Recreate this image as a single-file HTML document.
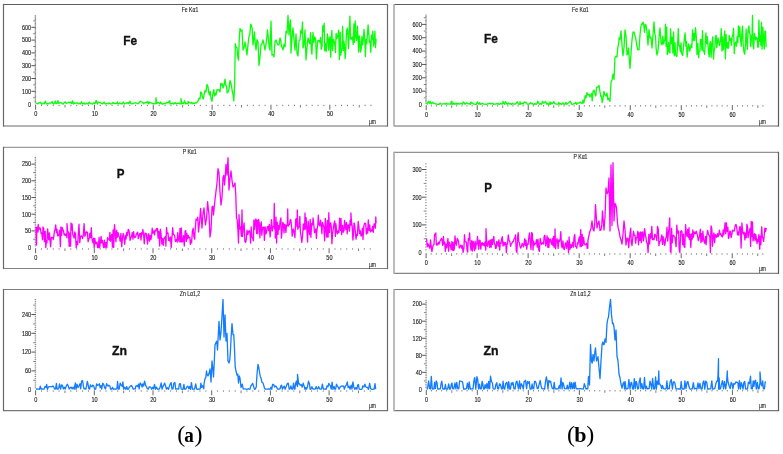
<!DOCTYPE html>
<html><head><meta charset="utf-8"><style>
html,body{margin:0;padding:0;background:#fff;}
svg{display:block;will-change:transform;}
.t{font-family:"Liberation Sans", sans-serif;font-size:6.4px;fill:#1a1a1a;stroke:#1a1a1a;stroke-width:0.12px;}
.big{font-family:"Liberation Sans", sans-serif;font-size:13.5px;font-weight:bold;fill:#111;stroke:#111;stroke-width:0.35px;}
.cap{font-family:"Liberation Serif", serif;font-size:22px;fill:#000;}
</style></head><body>
<svg width="783" height="454" viewBox="0 0 783 454">
<rect width="783" height="454" fill="#fff"/>
<line x1="3.5" y1="4.5" x2="387.5" y2="4.5" stroke="#5c5c5c" stroke-width="1.2"/>
<line x1="3.5" y1="126" x2="387.5" y2="126" stroke="#b4b4b4" stroke-width="1.8"/>
<line x1="3.5" y1="3.9" x2="3.5" y2="126.6" stroke="#6a6a6a" stroke-width="1.2"/>
<line x1="387.5" y1="3.9" x2="387.5" y2="126.6" stroke="#6a6a6a" stroke-width="1.2"/>
<text transform="translate(31.20,107.40) scale(0.87,1)" text-anchor="end" class="t">0</text>
<text transform="translate(31.20,93.60) scale(0.87,1)" text-anchor="end" class="t">100</text>
<text transform="translate(31.20,80.80) scale(0.87,1)" text-anchor="end" class="t">200</text>
<text transform="translate(31.20,68.00) scale(0.87,1)" text-anchor="end" class="t">300</text>
<text transform="translate(31.20,55.20) scale(0.87,1)" text-anchor="end" class="t">400</text>
<text transform="translate(31.20,42.40) scale(0.87,1)" text-anchor="end" class="t">500</text>
<text transform="translate(31.20,29.60) scale(0.87,1)" text-anchor="end" class="t">600</text>
<path d="M31.40,91.30H36.00M31.40,78.50H36.00M31.40,65.70H36.00M31.40,52.90H36.00M31.40,40.10H36.00M31.40,27.30H36.00" stroke="#444" stroke-width="0.9" fill="none"/>
<path d="M34.70,102.82H36.10M34.70,101.54H36.10M34.70,100.26H36.10M34.70,98.98H36.10M33.20,97.70H36.10M34.70,96.42H36.10M34.70,95.14H36.10M34.70,93.86H36.10M34.70,92.58H36.10M34.70,90.02H36.10M34.70,88.74H36.10M34.70,87.46H36.10M34.70,86.18H36.10M33.20,84.90H36.10M34.70,83.62H36.10M34.70,82.34H36.10M34.70,81.06H36.10M34.70,79.78H36.10M34.70,77.22H36.10M34.70,75.94H36.10M34.70,74.66H36.10M34.70,73.38H36.10M33.20,72.10H36.10M34.70,70.82H36.10M34.70,69.54H36.10M34.70,68.26H36.10M34.70,66.98H36.10M34.70,64.42H36.10M34.70,63.14H36.10M34.70,61.86H36.10M34.70,60.58H36.10M33.20,59.30H36.10M34.70,58.02H36.10M34.70,56.74H36.10M34.70,55.46H36.10M34.70,54.18H36.10M34.70,51.62H36.10M34.70,50.34H36.10M34.70,49.06H36.10M34.70,47.78H36.10M33.20,46.50H36.10M34.70,45.22H36.10M34.70,43.94H36.10M34.70,42.66H36.10M34.70,41.38H36.10M34.70,38.82H36.10M34.70,37.54H36.10M34.70,36.26H36.10M34.70,34.98H36.10M33.20,33.70H36.10M34.70,32.42H36.10M34.70,31.14H36.10M34.70,29.86H36.10M34.70,28.58H36.10M34.70,26.02H36.10M34.70,24.74H36.10M34.70,23.46H36.10M34.70,22.18H36.10M33.20,20.90H36.10M34.70,19.62H36.10M34.70,18.34H36.10M34.70,17.06H36.10M34.70,15.78H36.10" stroke="#5a5a5a" stroke-width="0.75" fill="none"/>
<text transform="translate(35.90,116.30) scale(0.87,1)" text-anchor="middle" class="t">0</text>
<text transform="translate(94.74,116.30) scale(0.87,1)" text-anchor="middle" class="t">10</text>
<text transform="translate(153.58,116.30) scale(0.87,1)" text-anchor="middle" class="t">20</text>
<text transform="translate(212.42,116.30) scale(0.87,1)" text-anchor="middle" class="t">30</text>
<text transform="translate(271.26,116.30) scale(0.87,1)" text-anchor="middle" class="t">40</text>
<text transform="translate(330.10,116.30) scale(0.87,1)" text-anchor="middle" class="t">50</text>
<path d="M35.60,104.70V109.70M94.44,104.70V109.70M153.28,104.70V109.70M212.12,104.70V109.70M270.96,104.70V109.70M329.80,104.70V109.70" stroke="#555" stroke-width="0.9" fill="none"/>
<path d="M65.02,104.90V107.50M123.86,104.90V107.50M182.70,104.90V107.50M241.54,104.90V107.50M300.38,104.90V107.50M359.22,104.90V107.50" stroke="#666" stroke-width="0.85" fill="none"/>
<path d="M41.48,104.80V106.10M47.37,104.80V106.10M53.25,104.80V106.10M59.14,104.80V106.10M70.90,104.80V106.10M76.79,104.80V106.10M82.67,104.80V106.10M88.56,104.80V106.10M100.32,104.80V106.10M106.21,104.80V106.10M112.09,104.80V106.10M117.98,104.80V106.10M129.74,104.80V106.10M135.63,104.80V106.10M141.51,104.80V106.10M147.40,104.80V106.10M159.16,104.80V106.10M165.05,104.80V106.10M170.93,104.80V106.10M176.82,104.80V106.10M188.58,104.80V106.10M194.47,104.80V106.10M200.35,104.80V106.10M206.24,104.80V106.10M218.00,104.80V106.10M223.89,104.80V106.10M229.77,104.80V106.10M235.66,104.80V106.10M247.42,104.80V106.10M253.31,104.80V106.10M259.19,104.80V106.10M265.08,104.80V106.10M276.84,104.80V106.10M282.73,104.80V106.10M288.61,104.80V106.10M294.50,104.80V106.10M306.26,104.80V106.10M312.15,104.80V106.10M318.03,104.80V106.10M323.92,104.80V106.10M335.68,104.80V106.10M341.57,104.80V106.10M347.45,104.80V106.10M353.34,104.80V106.10M365.10,104.80V106.10M370.99,104.80V106.10" stroke="#6a6a6a" stroke-width="0.9" fill="none"/>
<text transform="translate(190,11.6) scale(0.8,1)" text-anchor="middle" class="t">Fe K&#945;1</text>
<text transform="translate(369,124.0) scale(0.78,1)" class="t">&#181;m</text>
<text transform="translate(123.3,44.6) scale(0.88,1)" class="big">Fe</text>
<path d="M36.0,103.2L37.0,103.4L37.9,103.9L38.6,102.9L39.5,102.9L40.6,102.2L41.4,104.0L42.4,103.9L43.5,103.4L44.2,103.8L45.3,101.2L46.3,103.8L47.0,103.5L47.7,103.9L48.4,103.9L49.4,103.0L50.1,103.2L51.2,102.8L52.0,101.6L52.8,103.5L53.8,104.0L54.5,103.1L55.3,101.0L56.1,103.7L57.2,103.4L57.9,100.7L58.8,103.3L59.6,102.9L60.5,102.9L61.5,102.6L62.5,103.8L63.4,104.0L64.2,102.5L65.3,101.9L66.0,103.3L67.0,103.1L67.9,102.7L68.9,102.1L70.0,102.7L70.8,102.1L71.8,103.6L72.5,100.9L73.5,104.0L74.4,102.7L75.0,103.3L76.0,103.2L76.8,103.0L77.7,102.9L78.4,103.8L79.5,103.4L80.5,103.8L81.5,101.8L82.3,103.8L83.1,103.9L84.0,102.8L84.7,104.0L85.8,103.9L86.6,103.1L87.5,103.9L88.2,103.8L89.2,102.1L90.2,103.3L91.1,103.7L92.1,104.0L92.9,103.9L93.8,102.8L94.9,103.6L95.6,101.9L96.0,100.6L96.5,100.9L97.4,103.9L98.4,102.1L99.6,102.5L100.4,102.4L101.3,103.3L102.3,103.9L103.2,103.2L104.1,102.0L105.2,103.9L106.0,103.9L106.9,103.5L108.0,103.9L109.0,102.8L110.1,103.8L111.1,103.9L112.0,103.6L112.9,102.4L113.8,103.7L114.9,103.2L115.7,103.7L116.6,103.4L117.3,101.9L118.1,103.9L119.1,103.7L119.8,102.9L120.6,103.7L121.4,103.9L122.3,103.9L123.3,102.0L124.4,104.0L125.4,103.5L126.3,102.9L127.0,103.3L128.1,102.5L128.8,103.7L129.8,101.4L130.0,101.2L130.7,103.4L131.4,103.7L132.3,103.9L133.1,103.5L134.2,103.2L134.9,103.0L135.8,102.7L136.8,103.3L137.5,103.7L138.4,103.6L139.4,102.3L140.4,101.2L141.4,101.9L142.5,102.2L143.5,103.7L144.3,103.1L145.1,102.3L146.0,102.9L147.0,102.0L148.0,103.1L148.0,101.5L148.8,103.9L149.6,102.1L150.7,102.8L151.7,102.9L152.4,103.7L153.4,103.7L154.3,103.9L155.1,103.8L155.9,103.2L156.0,97.7L156.7,103.7L157.6,102.5L158.7,102.7L159.8,103.9L160.7,102.0L161.7,103.9L162.6,104.0L163.5,103.9L164.4,103.1L165.4,103.8L166.6,102.3L167.6,102.9L168.6,102.4L169.4,100.9L170.0,101.2L170.0,104.0L171.0,103.7L171.9,103.6L172.8,103.0L173.6,104.0L174.3,103.4L175.4,102.6L176.4,103.9L177.4,103.2L178.2,103.3L179.0,103.1L179.9,103.9L181.0,103.9L181.0,98.5L181.7,103.6L182.7,103.1L183.5,103.6L184.5,100.8L185.5,103.8L186.4,103.4L187.2,103.7L188.0,103.8L188.0,101.5L188.8,102.3L189.8,102.9L190.5,103.1L191.6,102.4L192.3,103.8L193.3,102.9L194.3,103.6L195.1,102.9L196.2,103.1L198.0,101.0L199.0,98.3L200.0,99.0L200.8,91.9L201.6,92.9L202.4,97.0L203.2,99.0L204.0,95.0L205.0,90.6L206.0,92.0L207.0,84.3L208.0,86.8L208.8,92.9L209.5,95.0L210.2,91.3L211.0,98.3L212.0,101.4L213.0,93.0L213.8,89.6L214.5,96.0L215.2,93.2L216.0,95.0L217.0,89.7L218.0,90.0L219.0,89.7L220.0,92.0L220.8,83.3L221.5,85.0L222.2,83.7L223.0,88.0L224.0,85.1L225.0,79.2L225.8,85.6L226.5,86.0L227.2,92.9L228.0,92.0L229.0,89.1L230.0,80.4L230.8,83.0L231.5,86.0L232.2,91.0L233.0,94.0L233.8,100.9L234.6,86.0L235.3,43.7L236.0,47.0L237.0,48.0L237.8,57.0L238.5,60.2L239.2,40.6L240.0,28.5L241.0,31.1L242.0,30.0L243.0,50.0L244.0,47.7L245.0,42.0L246.0,48.2L247.0,55.0L248.0,44.6L249.0,36.0L249.8,34.9L250.7,24.1L251.5,25.9L252.2,28.5L253.0,45.0L253.8,39.3L254.5,32.0L255.2,42.6L256.0,50.0L257.0,39.6L258.0,42.0L259.0,65.5L260.0,56.9L261.0,45.0L262.0,43.6L263.0,40.0L264.0,44.3L265.0,50.0L265.8,45.8L266.7,38.7L267.5,30.0L268.3,37.4L269.2,46.9L270.0,50.0L271.0,21.2L272.0,55.0L273.0,54.6L274.0,57.0L275.0,41.9L276.0,40.0L277.0,43.0L278.0,45.0L279.0,44.7L280.0,38.0L280.8,40.4L281.5,47.0L282.2,47.2L283.0,50.0L284.0,44.2L285.0,47.0L286.0,31.2L287.0,33.0L288.0,15.3L289.0,35.0L289.8,24.7L290.5,20.0L291.0,53.0L292.0,36.6L293.0,28.0L294.0,39.5L295.0,50.0L296.0,34.0L297.0,53.4L298.0,56.0L299.0,40.8L300.0,40.0L300.8,30.6L301.7,33.3L302.5,22.0L303.0,48.0L304.0,44.5L305.0,30.0L306.0,60.0L307.0,47.5L308.0,38.0L309.0,41.5L309.8,43.8L310.6,32.7L311.2,48.3L311.9,54.1L312.5,40.1L313.0,32.4L313.8,42.4L314.5,36.8L315.1,37.7L315.7,39.8L316.4,59.0L317.1,48.0L317.8,40.6L318.4,40.9L319.2,40.4L320.0,42.5L320.6,37.5L321.3,49.3L322.0,46.7L322.8,25.6L323.4,31.6L324.2,23.4L324.7,50.8L325.5,43.7L326.2,51.6L326.8,44.6L327.4,34.0L328.0,37.3L328.7,50.2L329.4,39.1L330.0,36.8L330.7,57.2L331.4,37.2L331.9,30.5L332.6,50.5L333.3,39.4L334.1,41.0L334.8,44.0L335.5,52.6L336.1,33.3L336.7,38.7L337.4,37.1L338.0,34.6L338.7,30.2L339.4,59.6L340.2,32.3L340.7,55.2L341.3,51.7L342.1,48.1L342.6,26.5L343.4,50.4L343.9,41.3L344.5,45.7L345.2,58.6L345.8,49.4L346.5,31.2L347.3,28.2L347.9,35.9L348.5,48.5L349.1,32.5L349.9,16.1L350.6,39.0L351.2,39.3L351.9,37.9L352.5,36.9L353.2,44.4L353.9,24.0L354.5,42.3L355.2,21.0L355.8,35.3L356.6,40.3L357.4,26.1L358.1,38.8L358.7,52.1L359.3,36.0L359.9,40.6L360.6,52.0L361.3,47.9L361.9,36.5L362.5,45.0L363.3,39.4L364.0,29.5L364.6,35.9L365.4,56.7L366.1,39.3L366.7,43.5L367.5,33.5L368.1,24.9L368.7,32.5L369.4,42.1L370.0,41.1L370.8,52.3L371.4,35.2L372.1,39.4L372.8,31.2L373.6,46.0L374.3,40.6L374.9,31.2L375.5,47.7L376.1,39.0" fill="none" stroke="#08ff08" stroke-width="1.3" stroke-linejoin="round"/>
<line x1="394" y1="4.5" x2="778.5" y2="4.5" stroke="#5c5c5c" stroke-width="1.2"/>
<line x1="394" y1="126" x2="778.5" y2="126" stroke="#b4b4b4" stroke-width="1.8"/>
<line x1="394" y1="3.9" x2="394" y2="126.6" stroke="#ababab" stroke-width="1.6"/>
<line x1="778.5" y1="3.9" x2="778.5" y2="126.6" stroke="#5c5c5c" stroke-width="1.2"/>
<text transform="translate(421.80,106.80) scale(0.87,1)" text-anchor="end" class="t">0</text>
<text transform="translate(421.80,93.45) scale(0.87,1)" text-anchor="end" class="t">100</text>
<text transform="translate(421.80,80.10) scale(0.87,1)" text-anchor="end" class="t">200</text>
<text transform="translate(421.80,66.75) scale(0.87,1)" text-anchor="end" class="t">300</text>
<text transform="translate(421.80,53.40) scale(0.87,1)" text-anchor="end" class="t">400</text>
<text transform="translate(421.80,40.05) scale(0.87,1)" text-anchor="end" class="t">500</text>
<text transform="translate(421.80,26.70) scale(0.87,1)" text-anchor="end" class="t">600</text>
<path d="M422.00,91.15H426.60M422.00,77.80H426.60M422.00,64.45H426.60M422.00,51.10H426.60M422.00,37.75H426.60M422.00,24.40H426.60" stroke="#444" stroke-width="0.9" fill="none"/>
<path d="M425.30,103.17H426.70M425.30,101.83H426.70M425.30,100.50H426.70M425.30,99.16H426.70M423.80,97.83H426.70M425.30,96.49H426.70M425.30,95.16H426.70M425.30,93.82H426.70M425.30,92.48H426.70M425.30,89.81H426.70M425.30,88.48H426.70M425.30,87.15H426.70M425.30,85.81H426.70M423.80,84.47H426.70M425.30,83.14H426.70M425.30,81.81H426.70M425.30,80.47H426.70M425.30,79.13H426.70M425.30,76.47H426.70M425.30,75.13H426.70M425.30,73.80H426.70M425.30,72.46H426.70M423.80,71.12H426.70M425.30,69.79H426.70M425.30,68.45H426.70M425.30,67.12H426.70M425.30,65.78H426.70M425.30,63.12H426.70M425.30,61.78H426.70M425.30,60.45H426.70M425.30,59.11H426.70M423.80,57.77H426.70M425.30,56.44H426.70M425.30,55.11H426.70M425.30,53.77H426.70M425.30,52.44H426.70M425.30,49.77H426.70M425.30,48.43H426.70M425.30,47.10H426.70M425.30,45.76H426.70M423.80,44.42H426.70M425.30,43.09H426.70M425.30,41.76H426.70M425.30,40.42H426.70M425.30,39.09H426.70M425.30,36.41H426.70M425.30,35.08H426.70M425.30,33.75H426.70M425.30,32.41H426.70M423.80,31.08H426.70M425.30,29.74H426.70M425.30,28.41H426.70M425.30,27.07H426.70M425.30,25.73H426.70M425.30,23.06H426.70M425.30,21.73H426.70M425.30,20.40H426.70M425.30,19.06H426.70M423.80,17.72H426.70M425.30,16.39H426.70M425.30,15.06H426.70" stroke="#5a5a5a" stroke-width="0.75" fill="none"/>
<text transform="translate(426.50,116.70) scale(0.87,1)" text-anchor="middle" class="t">0</text>
<text transform="translate(477.52,116.70) scale(0.87,1)" text-anchor="middle" class="t">10</text>
<text transform="translate(528.54,116.70) scale(0.87,1)" text-anchor="middle" class="t">20</text>
<text transform="translate(579.56,116.70) scale(0.87,1)" text-anchor="middle" class="t">30</text>
<text transform="translate(630.58,116.70) scale(0.87,1)" text-anchor="middle" class="t">40</text>
<text transform="translate(681.60,116.70) scale(0.87,1)" text-anchor="middle" class="t">50</text>
<text transform="translate(732.62,116.70) scale(0.87,1)" text-anchor="middle" class="t">60</text>
<path d="M426.20,105.10V110.10M477.22,105.10V110.10M528.24,105.10V110.10M579.26,105.10V110.10M630.28,105.10V110.10M681.30,105.10V110.10M732.32,105.10V110.10" stroke="#555" stroke-width="0.9" fill="none"/>
<path d="M451.71,105.30V107.90M502.73,105.30V107.90M553.75,105.30V107.90M604.77,105.30V107.90M655.79,105.30V107.90M706.81,105.30V107.90M757.83,105.30V107.90" stroke="#666" stroke-width="0.85" fill="none"/>
<path d="M431.30,105.20V106.50M436.40,105.20V106.50M441.51,105.20V106.50M446.61,105.20V106.50M456.81,105.20V106.50M461.91,105.20V106.50M467.02,105.20V106.50M472.12,105.20V106.50M482.32,105.20V106.50M487.42,105.20V106.50M492.53,105.20V106.50M497.63,105.20V106.50M507.83,105.20V106.50M512.93,105.20V106.50M518.04,105.20V106.50M523.14,105.20V106.50M533.34,105.20V106.50M538.44,105.20V106.50M543.55,105.20V106.50M548.65,105.20V106.50M558.85,105.20V106.50M563.95,105.20V106.50M569.06,105.20V106.50M574.16,105.20V106.50M584.36,105.20V106.50M589.46,105.20V106.50M594.57,105.20V106.50M599.67,105.20V106.50M609.87,105.20V106.50M614.97,105.20V106.50M620.08,105.20V106.50M625.18,105.20V106.50M635.38,105.20V106.50M640.48,105.20V106.50M645.59,105.20V106.50M650.69,105.20V106.50M660.89,105.20V106.50M665.99,105.20V106.50M671.10,105.20V106.50M676.20,105.20V106.50M686.40,105.20V106.50M691.50,105.20V106.50M696.61,105.20V106.50M701.71,105.20V106.50M711.91,105.20V106.50M717.01,105.20V106.50M722.12,105.20V106.50M727.22,105.20V106.50M737.42,105.20V106.50M742.52,105.20V106.50M747.63,105.20V106.50M752.73,105.20V106.50M762.93,105.20V106.50" stroke="#6a6a6a" stroke-width="0.9" fill="none"/>
<text transform="translate(580.4,11.6) scale(0.8,1)" text-anchor="middle" class="t">Fe K&#945;1</text>
<text transform="translate(759,123.9) scale(0.78,1)" class="t">&#181;m</text>
<text transform="translate(484.1,42.6) scale(0.88,1)" class="big">Fe</text>
<path d="M426.5,103.1L427.3,104.1L428.4,101.2L429.4,103.3L430.2,101.4L431.2,104.0L431.8,103.1L432.7,102.1L433.6,103.3L434.5,103.3L435.4,103.8L436.5,104.0L437.3,104.3L438.2,104.3L439.1,104.4L440.0,103.1L441.0,103.9L442.1,104.1L443.1,104.0L444.2,103.5L445.2,104.3L446.2,103.1L447.1,104.2L448.0,104.0L448.7,103.8L449.7,104.2L450.5,104.2L451.4,101.5L452.0,101.5L452.1,104.4L452.8,104.3L453.7,102.9L454.5,104.2L455.4,104.1L456.1,103.1L457.0,104.4L458.0,103.1L458.9,104.1L460.0,103.9L460.8,103.2L461.6,103.6L462.4,104.2L463.4,101.9L464.3,102.9L465.0,104.2L465.9,103.6L466.6,102.7L467.5,103.2L468.6,103.9L469.3,103.7L470.4,104.4L471.0,101.8L471.3,103.0L472.4,102.9L473.2,103.8L474.0,104.2L474.8,104.1L475.6,104.3L476.5,104.3L477.4,101.8L478.1,103.6L478.9,104.2L479.6,102.8L480.5,104.3L481.3,104.1L482.2,103.4L483.2,103.6L484.0,104.4L485.0,104.0L486.0,104.3L487.0,104.3L488.0,103.5L489.0,103.8L489.9,103.1L490.9,104.0L491.8,103.5L492.7,103.2L493.5,104.3L494.5,104.2L495.6,104.2L496.5,103.5L497.3,104.1L498.2,103.3L498.9,104.4L499.8,104.1L500.6,103.4L501.5,104.1L502.2,103.9L503.0,103.2L503.0,101.2L503.8,103.3L504.7,104.2L505.4,101.6L506.5,103.2L507.4,104.2L508.1,102.9L509.1,104.0L509.9,103.3L510.8,103.9L511.5,104.4L512.5,103.1L513.5,104.1L514.3,104.2L515.1,104.2L516.2,103.3L517.3,101.8L518.1,103.3L518.9,104.4L519.8,104.1L520.0,101.6L520.7,104.1L521.6,103.6L522.3,103.2L523.1,104.0L524.0,102.2L524.7,102.0L525.4,102.8L526.1,102.4L527.0,103.6L527.8,104.4L528.6,104.2L529.5,103.8L530.4,102.8L531.3,103.8L532.1,103.2L533.0,104.4L534.0,104.3L535.1,103.4L535.9,104.3L537.0,103.9L537.7,101.2L538.7,103.1L539.8,104.3L540.6,103.6L541.6,104.2L542.5,101.3L543.4,103.1L544.3,102.8L545.4,101.4L546.1,102.6L547.1,104.3L547.9,103.4L548.6,104.3L549.5,104.2L550.0,101.8L550.3,104.3L551.3,102.7L552.0,103.8L552.8,103.4L553.8,101.5L554.7,103.3L555.5,103.9L556.5,104.2L557.2,104.2L558.1,104.3L558.9,102.4L559.6,104.2L560.5,103.4L561.5,104.3L562.3,103.9L563.0,102.8L563.8,104.1L564.9,104.4L566.0,102.4L566.8,104.2L567.9,103.4L568.9,102.4L569.8,101.5L570.0,101.2L570.7,102.1L571.8,104.3L573.0,104.4L573.8,103.6L574.7,103.7L575.7,102.3L576.6,104.4L577.6,102.9L578.5,103.2L579.2,103.0L580.2,102.0L581.1,103.2L582.2,103.4L583.0,100.0L583.8,103.2L584.5,100.1L585.2,95.6L586.0,98.0L587.0,92.7L588.0,95.0L589.0,94.3L590.0,97.0L590.8,95.3L591.5,93.7L592.2,100.9L593.0,91.5L594.0,90.1L595.0,94.0L595.8,96.0L596.5,87.8L597.2,87.0L598.0,87.0L599.0,85.4L600.0,92.0L600.8,96.4L601.5,96.0L602.2,102.7L603.0,99.0L604.0,91.4L605.0,95.0L606.0,96.1L607.0,93.0L607.8,99.7L608.5,98.0L609.2,99.8L610.0,101.4L611.0,82.2L612.0,80.0L613.0,74.2L614.0,79.4L615.0,57.4L616.0,56.1L617.0,57.0L617.8,47.4L618.5,45.0L619.2,37.6L620.0,39.7L621.0,31.0L622.0,45.0L623.0,55.6L624.0,48.0L625.0,30.0L626.0,35.3L627.0,55.0L627.8,53.6L628.5,48.0L629.2,58.1L630.0,68.4L631.0,53.4L632.0,40.0L633.0,32.1L634.0,32.0L635.0,35.7L636.0,40.0L637.0,46.8L638.0,50.0L639.0,49.7L640.0,35.0L640.8,27.2L641.5,23.9L642.2,24.4L643.0,22.0L643.8,25.3L644.5,32.3L645.2,24.4L646.0,25.0L647.0,32.6L648.0,45.0L649.0,29.7L650.0,38.0L651.0,37.1L652.0,48.0L653.0,34.7L654.0,22.0L654.8,34.1L655.5,36.0L656.2,49.7L657.0,55.0L657.8,52.4L658.5,45.3L659.2,34.9L660.0,28.0L661.0,42.5L662.0,45.0L662.8,36.2L663.5,44.0L664.2,41.1L665.0,40.0L665.5,24.2L666.1,46.3L666.7,27.1L667.3,54.6L668.1,51.1L668.6,42.5L669.2,51.2L669.9,53.0L670.5,28.7L671.3,43.4L672.1,37.1L672.9,53.1L673.6,31.9L674.3,55.8L675.0,43.0L675.6,54.8L676.4,56.3L676.9,56.2L677.6,44.0L678.3,28.6L678.9,45.8L679.6,45.4L680.3,51.5L681.0,42.9L681.5,52.3L682.1,54.6L682.7,55.4L683.5,47.0L684.3,39.4L685.1,32.9L685.9,46.3L686.5,41.5L687.1,57.2L687.8,50.6L688.5,43.9L689.1,46.1L689.8,51.2L690.3,48.5L691.1,44.8L691.8,47.6L692.6,29.8L693.2,40.3L694.1,33.4L694.7,40.4L695.5,27.6L696.3,36.9L697.0,54.5L697.8,43.3L698.6,57.6L699.2,51.5L699.9,50.9L700.5,39.3L701.2,39.7L701.9,50.2L702.5,30.6L703.2,50.9L703.9,51.1L704.6,54.3L705.2,43.9L705.9,32.9L706.6,43.7L707.3,36.6L707.9,44.3L708.6,52.1L709.2,56.9L709.8,43.8L710.4,41.6L711.1,57.3L711.8,44.8L712.7,37.0L713.5,59.1L714.1,50.8L714.9,47.3L715.5,36.2L716.2,35.5L716.8,47.7L717.5,41.9L718.1,37.8L718.8,41.4L719.4,45.6L720.1,42.7L720.6,40.3L721.2,28.6L722.0,51.1L722.7,37.0L723.4,49.6L724.2,41.0L724.7,30.8L725.4,58.8L726.1,34.5L726.7,47.2L727.4,48.1L727.9,42.3L728.6,48.2L729.2,35.4L729.9,40.4L730.7,38.5L731.4,45.3L732.0,37.4L732.8,35.1L733.6,28.4L734.3,53.6L735.0,44.1L735.8,42.1L736.5,46.2L737.1,36.7L737.9,42.5L738.4,25.8L739.1,36.4L739.7,26.8L740.4,37.9L741.2,46.3L741.8,34.6L742.5,26.1L743.2,44.5L743.9,51.8L744.7,54.2L745.5,44.4L746.1,29.0L746.7,40.7L747.4,49.4L748.0,31.7L748.9,26.0L749.4,32.7L750.1,34.2L750.8,46.6L751.5,37.0L752.1,33.7L752.5,15.5L752.9,44.5L753.7,48.9L754.4,33.3L755.1,36.5L755.7,39.9L756.5,37.4L757.2,38.5L757.8,47.1L758.4,47.1L758.9,20.1L759.6,41.3L760.3,35.4L760.9,45.4L761.5,22.4L762.1,49.0L762.9,27.5L763.6,40.3L764.2,49.2L764.8,32.2L765.5,31.0L766.1,47.2" fill="none" stroke="#08ff08" stroke-width="1.3" stroke-linejoin="round"/>
<line x1="3.5" y1="147.4" x2="387.5" y2="147.4" stroke="#9c9c9c" stroke-width="1.2"/>
<line x1="3.5" y1="268.5" x2="387.5" y2="268.5" stroke="#828282" stroke-width="1.2"/>
<line x1="3.5" y1="146.8" x2="3.5" y2="269.1" stroke="#6a6a6a" stroke-width="1.2"/>
<line x1="387.5" y1="146.8" x2="387.5" y2="269.1" stroke="#6a6a6a" stroke-width="1.2"/>
<text transform="translate(31.20,249.90) scale(0.87,1)" text-anchor="end" class="t">0</text>
<text transform="translate(31.20,233.20) scale(0.87,1)" text-anchor="end" class="t">50</text>
<text transform="translate(31.20,216.50) scale(0.87,1)" text-anchor="end" class="t">100</text>
<text transform="translate(31.20,199.80) scale(0.87,1)" text-anchor="end" class="t">150</text>
<text transform="translate(31.20,183.10) scale(0.87,1)" text-anchor="end" class="t">200</text>
<text transform="translate(31.20,166.40) scale(0.87,1)" text-anchor="end" class="t">250</text>
<path d="M31.40,230.90H36.00M31.40,214.20H36.00M31.40,197.50H36.00M31.40,180.80H36.00M31.40,164.10H36.00" stroke="#444" stroke-width="0.9" fill="none"/>
<path d="M34.70,245.93H36.10M34.70,244.26H36.10M34.70,242.59H36.10M34.70,240.92H36.10M33.20,239.25H36.10M34.70,237.58H36.10M34.70,235.91H36.10M34.70,234.24H36.10M34.70,232.57H36.10M34.70,229.23H36.10M34.70,227.56H36.10M34.70,225.89H36.10M34.70,224.22H36.10M33.20,222.55H36.10M34.70,220.88H36.10M34.70,219.21H36.10M34.70,217.54H36.10M34.70,215.87H36.10M34.70,212.53H36.10M34.70,210.86H36.10M34.70,209.19H36.10M34.70,207.52H36.10M33.20,205.85H36.10M34.70,204.18H36.10M34.70,202.51H36.10M34.70,200.84H36.10M34.70,199.17H36.10M34.70,195.83H36.10M34.70,194.16H36.10M34.70,192.49H36.10M34.70,190.82H36.10M33.20,189.15H36.10M34.70,187.48H36.10M34.70,185.81H36.10M34.70,184.14H36.10M34.70,182.47H36.10M34.70,179.13H36.10M34.70,177.46H36.10M34.70,175.79H36.10M34.70,174.12H36.10M33.20,172.45H36.10M34.70,170.78H36.10M34.70,169.11H36.10M34.70,167.44H36.10M34.70,165.77H36.10M34.70,162.43H36.10M34.70,160.76H36.10M34.70,159.09H36.10M34.70,157.42H36.10" stroke="#5a5a5a" stroke-width="0.75" fill="none"/>
<text transform="translate(35.90,259.80) scale(0.87,1)" text-anchor="middle" class="t">0</text>
<text transform="translate(94.60,259.80) scale(0.87,1)" text-anchor="middle" class="t">10</text>
<text transform="translate(153.30,259.80) scale(0.87,1)" text-anchor="middle" class="t">20</text>
<text transform="translate(212.00,259.80) scale(0.87,1)" text-anchor="middle" class="t">30</text>
<text transform="translate(270.70,259.80) scale(0.87,1)" text-anchor="middle" class="t">40</text>
<text transform="translate(329.40,259.80) scale(0.87,1)" text-anchor="middle" class="t">50</text>
<path d="M35.60,248.20V253.20M94.30,248.20V253.20M153.00,248.20V253.20M211.70,248.20V253.20M270.40,248.20V253.20M329.10,248.20V253.20" stroke="#555" stroke-width="0.9" fill="none"/>
<path d="M64.95,248.40V251.00M123.65,248.40V251.00M182.35,248.40V251.00M241.05,248.40V251.00M299.75,248.40V251.00M358.45,248.40V251.00" stroke="#666" stroke-width="0.85" fill="none"/>
<path d="M41.47,248.30V249.60M47.34,248.30V249.60M53.21,248.30V249.60M59.08,248.30V249.60M70.82,248.30V249.60M76.69,248.30V249.60M82.56,248.30V249.60M88.43,248.30V249.60M100.17,248.30V249.60M106.04,248.30V249.60M111.91,248.30V249.60M117.78,248.30V249.60M129.52,248.30V249.60M135.39,248.30V249.60M141.26,248.30V249.60M147.13,248.30V249.60M158.87,248.30V249.60M164.74,248.30V249.60M170.61,248.30V249.60M176.48,248.30V249.60M188.22,248.30V249.60M194.09,248.30V249.60M199.96,248.30V249.60M205.83,248.30V249.60M217.57,248.30V249.60M223.44,248.30V249.60M229.31,248.30V249.60M235.18,248.30V249.60M246.92,248.30V249.60M252.79,248.30V249.60M258.66,248.30V249.60M264.53,248.30V249.60M276.27,248.30V249.60M282.14,248.30V249.60M288.01,248.30V249.60M293.88,248.30V249.60M305.62,248.30V249.60M311.49,248.30V249.60M317.36,248.30V249.60M323.23,248.30V249.60M334.97,248.30V249.60M340.84,248.30V249.60M346.71,248.30V249.60M352.58,248.30V249.60M364.32,248.30V249.60M370.19,248.30V249.60" stroke="#6a6a6a" stroke-width="0.9" fill="none"/>
<text transform="translate(189.7,153.9) scale(0.8,1)" text-anchor="middle" class="t">P K&#945;1</text>
<text transform="translate(369,266.6) scale(0.78,1)" class="t">&#181;m</text>
<text transform="translate(116.7,177.6) scale(0.86,1)" class="big">P</text>
<path d="M36.0,226.8L36.5,245.0L36.8,230.9L37.4,227.2L38.0,232.0L38.2,224.3L38.8,229.8L39.5,227.8L40.3,228.2L41.1,233.5L41.8,233.0L42.5,239.6L43.0,227.0L43.7,228.6L44.4,241.6L45.2,231.4L45.8,247.6L46.4,240.6L47.0,242.7L47.6,228.8L48.2,235.0L48.7,239.6L49.4,232.8L50.0,240.5L50.6,246.8L51.3,237.4L52.0,237.3L52.6,237.3L53.2,239.5L53.8,236.7L54.4,231.2L55.1,229.5L55.7,224.8L56.4,232.5L56.9,229.2L57.7,235.8L58.3,235.8L59.0,234.4L59.6,230.1L60.4,246.7L60.9,226.9L61.5,235.4L62.1,227.4L62.7,229.4L63.4,230.6L64.2,235.0L65.0,234.0L65.6,235.4L66.4,234.0L67.0,237.8L67.0,223.6L67.7,231.8L68.4,231.9L69.2,246.4L69.9,233.0L70.6,246.2L71.0,223.0L71.4,230.0L72.1,223.8L72.8,234.6L73.5,235.9L74.1,238.1L74.8,231.9L75.4,233.8L76.2,247.6L77.0,241.5L77.7,244.6L78.2,235.4L79.0,224.2L79.8,242.6L80.4,236.9L81.1,236.0L81.9,236.1L82.6,238.6L83.3,235.0L84.1,223.7L84.9,236.3L85.4,234.9L86.2,231.9L86.8,232.2L87.4,232.1L88.1,241.8L88.7,239.4L89.3,237.9L89.8,233.2L90.6,237.6L91.3,227.7L91.9,238.1L92.4,240.8L93.0,242.9L93.6,238.1L94.2,247.6L94.8,238.4L95.6,243.6L96.2,243.8L97.0,242.0L97.6,247.6L98.3,247.6L99.1,237.4L99.7,247.6L100.3,243.0L101.1,236.3L101.7,242.9L102.4,240.4L103.0,244.6L103.7,247.6L104.4,240.2L105.2,247.6L106.0,242.5L106.8,247.6L107.5,237.7L108.0,238.9L108.8,239.1L109.3,240.2L109.9,232.3L110.5,241.1L111.1,237.1L111.7,234.5L112.4,247.1L113.1,230.0L113.7,247.6L114.5,224.6L115.2,231.5L115.9,241.8L116.7,230.4L117.4,237.2L118.1,232.6L118.7,235.7L119.5,237.2L120.1,241.1L120.9,233.5L121.7,246.6L122.5,238.0L123.2,233.4L123.9,237.0L124.7,244.3L125.5,235.2L126.1,239.0L126.7,232.5L127.5,235.5L128.2,229.3L128.8,229.7L129.5,234.1L130.1,240.4L130.9,237.9L131.6,235.9L132.2,232.6L133.0,239.1L133.6,231.6L134.2,236.4L134.8,237.6L135.5,237.0L136.3,234.6L137.1,232.9L137.7,232.2L138.3,238.7L139.1,236.0L139.6,233.8L140.4,233.4L141.0,240.0L141.7,232.6L142.4,234.1L142.9,229.5L143.6,235.0L144.3,243.8L145.0,233.1L145.6,233.4L146.2,233.3L146.9,239.0L147.6,244.0L148.2,234.1L148.8,233.9L149.5,241.2L150.3,235.5L150.9,239.7L151.7,235.3L152.2,228.1L153.0,233.1L153.8,231.2L154.5,234.8L155.2,229.8L156.0,230.9L156.7,228.3L157.5,228.7L158.1,238.1L158.9,231.5L159.7,246.0L160.4,229.1L161.1,234.5L161.9,244.0L162.5,238.6L163.3,245.3L163.9,238.1L164.6,238.4L165.4,236.5L165.9,246.1L166.5,227.5L167.2,233.6L168.0,232.9L168.6,240.4L169.2,237.9L169.9,241.2L170.5,237.0L171.2,247.6L171.9,238.1L172.7,227.7L173.3,234.4L174.0,234.6L174.7,236.0L175.4,241.5L176.0,240.0L176.6,239.5L177.2,242.1L177.7,232.6L178.4,239.1L179.2,241.8L180.0,228.5L180.7,241.9L181.3,228.0L182.0,242.0L182.8,241.5L183.5,235.7L184.3,246.0L185.1,231.0L185.7,230.6L186.3,241.4L186.9,233.5L187.5,238.8L188.2,235.4L189.0,237.8L189.8,237.4L190.3,244.3L191.0,240.1L191.6,242.8L192.4,231.1L193.2,228.2L193.9,236.5L194.7,239.2L195.0,232.0L196.0,219.2L197.0,220.0L197.8,217.2L198.5,232.0L199.6,221.8L200.6,208.3L202.0,228.0L203.0,213.7L204.0,208.0L204.8,218.4L205.5,225.0L206.6,217.7L207.6,201.7L209.0,215.0L210.0,237.0L211.0,230.2L212.0,207.0L212.8,206.3L213.5,215.0L214.2,207.8L215.0,199.5L216.0,191.3L217.0,183.0L218.0,168.7L219.0,173.0L220.0,192.2L221.0,205.0L222.0,197.4L223.0,177.5L223.8,175.3L224.5,185.0L225.2,177.4L226.0,164.3L227.0,175.0L228.0,157.7L229.0,190.0L230.0,178.0L231.0,171.0L232.0,180.3L233.0,187.0L234.0,185.7L235.0,183.0L235.8,195.7L236.5,218.0L237.2,219.9L238.0,231.5L238.5,243.0L239.0,214.6L239.8,229.1L240.6,226.8L241.4,236.3L242.0,209.9L242.5,236.5L243.3,228.0L244.1,223.0L244.9,241.3L245.7,242.5L246.3,239.2L247.0,230.1L247.8,234.5L248.5,231.6L249.3,230.7L250.0,233.1L250.6,243.1L251.2,227.0L251.9,236.4L252.6,237.9L253.4,240.8L253.9,219.8L254.5,229.1L255.3,220.8L255.9,218.9L256.6,233.4L257.2,220.2L257.8,233.8L258.5,219.4L259.3,223.2L259.9,237.8L260.6,225.6L261.3,221.9L261.8,235.2L262.6,227.4L263.2,228.8L263.8,227.0L264.4,240.4L265.2,226.9L266.0,233.9L266.8,231.0L267.4,226.8L268.1,226.4L268.7,230.6L269.3,224.4L270.1,236.9L270.7,230.4L271.5,219.6L272.3,231.0L273.1,226.3L273.8,226.8L274.3,203.4L274.6,229.1L275.3,228.7L275.3,238.0L276.0,217.1L276.6,243.1L277.2,222.1L278.0,234.4L278.6,225.4L279.3,229.3L280.1,221.4L280.9,218.0L281.4,238.2L282.1,231.3L282.8,222.3L283.4,223.8L284.0,232.9L284.7,224.2L285.3,225.4L285.9,232.4L286.5,225.2L287.3,225.2L287.7,209.0L288.1,226.3L288.7,224.8L289.5,224.4L290.1,220.0L290.8,219.6L291.5,225.3L292.2,236.2L292.9,230.2L293.4,229.0L294.2,233.0L294.9,237.7L295.7,219.8L296.2,218.5L297.0,226.6L297.3,210.0L297.8,229.3L298.4,227.3L299.1,227.0L299.8,216.4L300.4,231.8L301.2,237.1L301.8,242.4L302.5,236.9L303.3,223.9L303.9,229.8L304.6,227.6L305.0,213.0L305.4,229.1L306.1,217.6L306.9,230.3L307.6,242.1L308.2,221.2L308.8,229.6L309.6,234.7L310.2,219.5L310.9,237.3L311.7,223.5L312.5,224.9L313.1,217.8L313.9,226.0L314.5,232.7L315.1,231.6L315.8,228.9L316.4,238.5L317.1,229.3L317.8,225.0L318.3,215.2L319.0,224.6L319.8,225.9L320.6,220.1L321.3,226.2L321.9,233.6L322.5,222.4L323.1,225.1L323.9,227.2L324.6,240.8L325.3,218.3L325.9,228.3L326.7,237.2L327.4,220.4L328.1,237.1L328.8,212.7L329.5,232.4L330.1,223.9L330.7,222.8L331.3,226.4L331.9,243.8L332.6,233.5L333.4,228.2L334.0,223.6L334.7,220.8L335.4,236.4L335.9,223.7L336.7,231.3L337.4,233.9L338.2,230.6L338.9,232.8L339.6,218.1L340.4,230.3L341.0,218.5L341.7,234.6L342.6,225.4L343.3,232.2L344.0,230.4L344.6,220.3L345.4,227.9L345.9,229.5L346.5,222.3L347.2,233.8L347.9,225.2L348.7,224.9L349.4,231.2L350.1,220.3L350.8,225.2L350.9,213.0L351.6,223.7L352.2,226.1L352.9,240.0L353.5,235.0L354.0,222.8L354.7,225.1L355.4,232.4L356.0,239.1L356.7,234.4L357.4,235.4L358.2,221.5L358.8,226.1L359.5,233.5L360.2,230.7L361.0,236.0L361.7,235.4L362.4,228.2L363.0,239.4L363.7,227.4L364.4,223.7L365.1,223.1L365.7,223.8L366.3,234.0L367.0,228.4L367.6,233.1L368.3,219.8L369.0,230.4L369.7,224.8L370.5,231.9L371.2,230.0L371.9,231.0L372.6,226.3L373.3,232.3L374.0,224.0L374.6,223.9L375.4,228.2L375.8,217.0L376.1,223.4" fill="none" stroke="#ff00ff" stroke-width="1.3" stroke-linejoin="round"/>
<line x1="394" y1="152.4" x2="778.5" y2="152.4" stroke="#929292" stroke-width="1.2"/>
<line x1="394" y1="273.4" x2="778.5" y2="273.4" stroke="#858585" stroke-width="1.2"/>
<line x1="394" y1="151.8" x2="394" y2="274.0" stroke="#ababab" stroke-width="1.6"/>
<line x1="778.5" y1="151.8" x2="778.5" y2="274.0" stroke="#5c5c5c" stroke-width="1.2"/>
<text transform="translate(421.70,254.90) scale(0.87,1)" text-anchor="end" class="t">0</text>
<text transform="translate(421.70,227.20) scale(0.87,1)" text-anchor="end" class="t">100</text>
<text transform="translate(421.70,199.50) scale(0.87,1)" text-anchor="end" class="t">200</text>
<text transform="translate(421.70,171.80) scale(0.87,1)" text-anchor="end" class="t">300</text>
<path d="M421.90,224.90H426.50M421.90,197.20H426.50M421.90,169.50H426.50" stroke="#444" stroke-width="0.9" fill="none"/>
<path d="M425.20,249.83H426.60M425.20,247.06H426.60M425.20,244.29H426.60M425.20,241.52H426.60M423.70,238.75H426.60M425.20,235.98H426.60M425.20,233.21H426.60M425.20,230.44H426.60M425.20,227.67H426.60M425.20,222.13H426.60M425.20,219.36H426.60M425.20,216.59H426.60M425.20,213.82H426.60M423.70,211.05H426.60M425.20,208.28H426.60M425.20,205.51H426.60M425.20,202.74H426.60M425.20,199.97H426.60M425.20,194.43H426.60M425.20,191.66H426.60M425.20,188.89H426.60M425.20,186.12H426.60M423.70,183.35H426.60M425.20,180.58H426.60M425.20,177.81H426.60M425.20,175.04H426.60M425.20,172.27H426.60M425.20,166.73H426.60M425.20,163.96H426.60" stroke="#5a5a5a" stroke-width="0.75" fill="none"/>
<text transform="translate(426.40,264.80) scale(0.87,1)" text-anchor="middle" class="t">0</text>
<text transform="translate(477.42,264.80) scale(0.87,1)" text-anchor="middle" class="t">10</text>
<text transform="translate(528.44,264.80) scale(0.87,1)" text-anchor="middle" class="t">20</text>
<text transform="translate(579.46,264.80) scale(0.87,1)" text-anchor="middle" class="t">30</text>
<text transform="translate(630.48,264.80) scale(0.87,1)" text-anchor="middle" class="t">40</text>
<text transform="translate(681.50,264.80) scale(0.87,1)" text-anchor="middle" class="t">50</text>
<text transform="translate(732.52,264.80) scale(0.87,1)" text-anchor="middle" class="t">60</text>
<path d="M426.10,253.20V258.20M477.12,253.20V258.20M528.14,253.20V258.20M579.16,253.20V258.20M630.18,253.20V258.20M681.20,253.20V258.20M732.22,253.20V258.20" stroke="#555" stroke-width="0.9" fill="none"/>
<path d="M451.61,253.40V256.00M502.63,253.40V256.00M553.65,253.40V256.00M604.67,253.40V256.00M655.69,253.40V256.00M706.71,253.40V256.00M757.73,253.40V256.00" stroke="#666" stroke-width="0.85" fill="none"/>
<path d="M431.20,253.30V254.60M436.30,253.30V254.60M441.41,253.30V254.60M446.51,253.30V254.60M456.71,253.30V254.60M461.81,253.30V254.60M466.92,253.30V254.60M472.02,253.30V254.60M482.22,253.30V254.60M487.32,253.30V254.60M492.43,253.30V254.60M497.53,253.30V254.60M507.73,253.30V254.60M512.83,253.30V254.60M517.94,253.30V254.60M523.04,253.30V254.60M533.24,253.30V254.60M538.34,253.30V254.60M543.45,253.30V254.60M548.55,253.30V254.60M558.75,253.30V254.60M563.85,253.30V254.60M568.96,253.30V254.60M574.06,253.30V254.60M584.26,253.30V254.60M589.36,253.30V254.60M594.47,253.30V254.60M599.57,253.30V254.60M609.77,253.30V254.60M614.87,253.30V254.60M619.98,253.30V254.60M625.08,253.30V254.60M635.28,253.30V254.60M640.38,253.30V254.60M645.49,253.30V254.60M650.59,253.30V254.60M660.79,253.30V254.60M665.89,253.30V254.60M671.00,253.30V254.60M676.10,253.30V254.60M686.30,253.30V254.60M691.40,253.30V254.60M696.51,253.30V254.60M701.61,253.30V254.60M711.81,253.30V254.60M716.91,253.30V254.60M722.02,253.30V254.60M727.12,253.30V254.60M737.32,253.30V254.60M742.42,253.30V254.60M747.53,253.30V254.60M752.63,253.30V254.60M762.83,253.30V254.60" stroke="#6a6a6a" stroke-width="0.9" fill="none"/>
<text transform="translate(580.5,158.9) scale(0.8,1)" text-anchor="middle" class="t">P K&#945;1</text>
<text transform="translate(759,271.1) scale(0.78,1)" class="t">&#181;m</text>
<text transform="translate(484.2,191.6) scale(0.86,1)" class="big">P</text>
<path d="M426.5,238.5L427.3,246.8L427.9,243.7L428.4,244.6L429.0,246.7L429.8,248.3L430.5,240.0L431.3,246.9L431.9,251.7L432.6,247.6L433.2,245.4L434.0,244.4L434.6,234.5L435.1,234.5L435.8,232.9L436.4,245.0L437.0,243.5L437.7,245.0L438.5,242.2L439.2,244.0L440.0,241.0L440.7,239.9L441.4,238.4L442.0,240.2L442.7,245.4L443.4,236.4L444.1,244.2L444.7,242.2L445.3,251.4L446.0,244.2L446.7,247.9L447.3,243.3L447.9,238.5L448.6,251.2L449.2,242.1L449.9,244.0L450.5,246.4L451.2,249.6L451.9,241.5L452.6,250.1L453.1,242.3L453.8,250.7L454.4,248.3L455.0,235.8L455.8,243.3L456.5,245.2L457.3,238.5L458.0,239.9L458.6,241.9L459.3,248.0L460.1,246.7L460.9,245.0L461.6,248.0L462.3,245.7L463.1,252.3L463.9,248.6L464.5,234.6L465.1,241.5L465.8,241.6L466.5,242.7L467.1,250.7L467.7,252.2L468.3,238.6L469.0,240.0L469.6,232.9L470.2,243.6L471.0,250.1L471.7,240.6L472.4,251.0L473.1,241.5L473.8,244.7L474.5,250.6L475.1,241.1L475.7,248.9L476.2,243.7L476.8,244.1L477.5,236.5L478.1,243.3L478.7,249.3L479.4,240.1L480.1,240.5L480.8,249.1L481.5,243.7L482.2,242.5L482.8,245.2L483.5,243.5L484.3,245.8L485.0,242.0L485.8,250.1L486.0,228.7L486.4,237.5L487.0,245.5L487.0,245.0L487.6,246.3L488.4,241.7L489.0,240.8L489.7,247.5L490.4,239.9L491.2,247.3L491.8,239.4L492.5,244.5L493.1,239.6L493.8,236.5L494.4,244.1L495.0,244.1L495.5,248.3L496.2,248.1L496.7,241.5L497.5,242.3L498.2,246.1L498.9,239.9L499.7,250.0L500.3,242.8L501.0,243.3L501.7,238.6L502.3,236.7L503.0,246.0L503.8,242.2L504.4,245.0L505.1,242.6L505.7,242.7L506.4,252.6L507.0,244.8L507.6,242.9L508.3,234.8L509.0,240.0L509.8,241.5L510.6,246.3L511.3,243.9L511.8,243.4L512.6,241.7L513.3,241.4L514.1,238.9L514.7,238.6L515.5,234.8L516.2,250.3L516.9,252.6L517.6,237.0L518.2,232.6L518.8,241.5L519.4,242.7L520.1,246.7L520.8,248.1L521.6,246.1L522.1,243.5L522.9,244.0L523.5,246.8L524.1,243.5L524.8,238.7L525.4,245.4L526.0,240.1L526.7,249.2L527.4,243.9L528.1,244.4L528.9,236.5L529.5,232.9L530.2,241.6L531.0,249.5L531.7,232.5L532.4,233.8L533.0,250.1L533.6,241.1L534.2,245.2L535.0,243.4L535.7,243.8L536.5,239.7L537.3,247.1L538.0,239.2L538.7,249.6L539.4,251.4L540.2,238.5L540.9,241.7L541.5,244.4L542.1,243.8L542.9,242.5L543.5,244.0L544.2,236.1L544.9,235.2L545.7,245.9L546.3,243.3L547.1,235.8L547.8,247.3L548.3,237.8L548.9,247.5L549.5,239.8L550.3,238.9L551.1,242.7L551.7,244.3L552.4,238.6L552.9,245.5L553.6,236.3L554.1,247.4L554.9,237.1L555.0,229.0L555.6,248.8L556.0,244.0L556.2,241.8L557.0,238.7L557.5,240.9L558.1,248.4L558.8,240.0L559.6,241.4L560.2,238.6L560.8,231.7L561.5,245.5L562.1,247.8L562.9,240.9L563.7,248.4L564.3,249.6L564.9,246.6L565.4,243.0L566.1,243.8L566.6,248.3L567.2,240.7L567.9,243.8L568.5,252.6L569.1,236.9L569.9,249.5L570.7,244.3L571.4,247.5L572.2,244.9L572.8,242.3L573.4,247.1L574.1,236.9L574.8,234.5L575.4,246.2L576.2,246.7L576.8,248.3L577.4,242.9L578.0,244.2L578.7,239.5L579.4,237.0L580.1,246.8L580.7,229.7L581.5,246.5L582.2,234.4L582.8,245.4L583.6,237.3L584.3,243.5L585.1,244.8L585.8,244.5L586.5,243.2L587.2,248.3L587.8,248.2L588.0,240.0L589.0,235.1L590.0,231.0L591.0,228.5L592.0,221.0L593.0,229.2L594.0,231.0L594.8,222.1L595.5,204.6L596.2,215.3L597.0,228.0L598.0,223.6L599.0,221.0L600.0,230.5L601.0,230.0L601.8,224.9L602.5,211.0L603.2,220.0L604.0,230.0L605.0,217.0L606.0,188.0L607.0,193.5L608.0,192.1L609.0,178.0L610.0,231.0L611.0,165.0L612.0,225.5L613.0,162.7L614.0,221.0L615.0,203.5L615.8,204.8L616.5,208.0L617.5,223.0L618.2,228.1L619.0,231.0L620.0,236.7L621.0,240.0L622.0,244.0L623.0,234.2L624.0,221.0L625.0,229.8L626.0,245.0L627.0,238.0L627.5,240.8L628.1,238.6L628.7,247.6L629.3,240.2L629.9,234.7L630.7,228.2L631.3,242.1L632.0,245.5L632.8,237.5L633.5,231.5L634.3,235.3L635.1,235.6L635.6,243.1L636.3,238.2L637.1,237.3L637.8,231.2L638.5,244.8L639.1,232.7L639.9,240.4L640.7,231.9L641.3,242.6L641.9,233.0L642.7,231.9L643.3,240.9L644.1,235.8L644.6,228.6L645.4,234.6L646.0,237.9L646.6,242.4L647.4,243.6L648.1,252.6L648.8,234.3L649.6,244.0L650.4,233.7L651.0,238.0L651.8,226.3L652.5,239.5L653.3,238.7L654.0,239.8L654.7,234.4L655.5,234.8L656.3,237.9L656.8,240.7L657.5,226.5L658.3,229.1L658.9,245.7L659.6,241.9L660.3,241.1L661.1,238.8L661.8,234.8L662.5,244.4L663.1,236.6L663.9,240.4L664.5,245.3L665.1,243.8L665.6,238.3L666.3,237.1L667.0,227.2L667.7,241.0L668.4,233.3L669.0,228.4L669.7,217.8L670.4,251.3L671.0,252.6L671.6,228.2L672.3,242.8L672.8,235.7L673.5,235.3L674.3,236.6L674.9,237.2L675.5,242.1L676.1,246.7L676.8,225.1L677.5,233.2L678.0,232.0L678.6,230.9L679.2,249.4L679.9,252.6L680.7,231.3L681.5,230.8L682.0,231.8L682.7,244.7L683.5,234.2L684.1,246.7L684.8,247.4L685.6,224.7L686.3,233.7L687.0,236.3L687.7,229.4L688.4,237.7L689.0,227.7L689.5,239.7L690.2,234.3L690.8,247.4L691.6,233.8L692.2,239.2L692.8,229.8L693.4,237.1L694.2,232.0L694.9,233.7L695.5,233.4L696.2,231.2L697.0,233.7L697.7,236.9L698.3,240.5L699.0,238.3L699.7,234.5L700.4,229.2L700.9,242.7L701.5,233.7L702.2,241.3L702.9,231.2L703.5,239.0L704.0,241.2L704.8,243.3L705.5,236.4L706.1,244.7L706.8,236.0L707.6,230.3L708.3,233.5L709.0,235.5L709.8,236.6L710.4,252.6L711.0,225.8L711.8,228.6L712.5,246.3L713.1,236.6L713.9,233.0L714.6,242.8L715.4,234.7L716.0,235.4L716.7,237.4L717.5,233.6L718.1,236.7L718.7,235.2L719.4,230.1L720.2,234.6L720.9,233.7L721.7,236.4L722.5,236.9L723.1,230.0L723.8,234.8L724.5,228.7L725.1,222.7L725.7,233.6L726.5,223.0L727.1,231.3L727.9,227.5L728.5,238.5L729.1,236.7L729.9,231.0L730.4,231.4L731.1,237.5L731.9,234.3L732.5,230.1L733.3,230.9L734.1,231.0L734.8,228.0L735.4,225.0L736.0,224.5L736.6,226.7L737.5,234.8L738.2,231.8L738.8,235.1L739.6,226.8L740.4,226.8L741.1,248.0L741.9,223.0L742.7,232.4L743.5,234.0L744.1,232.1L744.9,239.9L745.6,233.1L746.3,237.7L746.9,224.1L747.5,226.1L748.1,237.7L748.7,232.5L749.4,231.3L750.0,228.4L750.6,246.4L751.2,221.5L751.9,236.7L752.5,221.9L753.0,240.9L753.6,237.9L754.4,233.7L755.0,240.7L755.8,234.4L756.4,238.6L757.0,243.5L757.6,239.3L758.2,241.5L758.9,234.6L759.7,249.1L760.3,236.1L760.9,244.6L761.7,226.8L762.3,236.7L762.9,238.1L763.6,241.4L764.2,235.4L764.8,228.2L765.6,231.5L766.3,227.9" fill="none" stroke="#ff00ff" stroke-width="1.3" stroke-linejoin="round"/>
<line x1="3.5" y1="289.5" x2="387.5" y2="289.5" stroke="#7c7c7c" stroke-width="1.2"/>
<line x1="3.5" y1="410.6" x2="387.5" y2="410.6" stroke="#777777" stroke-width="1.2"/>
<line x1="3.5" y1="288.9" x2="3.5" y2="411.20000000000005" stroke="#6a6a6a" stroke-width="1.2"/>
<line x1="387.5" y1="288.9" x2="387.5" y2="411.20000000000005" stroke="#6a6a6a" stroke-width="1.2"/>
<text transform="translate(31.20,392.00) scale(0.87,1)" text-anchor="end" class="t">0</text>
<text transform="translate(31.20,373.20) scale(0.87,1)" text-anchor="end" class="t">60</text>
<text transform="translate(31.20,354.40) scale(0.87,1)" text-anchor="end" class="t">120</text>
<text transform="translate(31.20,335.60) scale(0.87,1)" text-anchor="end" class="t">180</text>
<text transform="translate(31.20,316.80) scale(0.87,1)" text-anchor="end" class="t">240</text>
<path d="M31.40,370.90H36.00M31.40,352.10H36.00M31.40,333.30H36.00M31.40,314.50H36.00" stroke="#444" stroke-width="0.9" fill="none"/>
<path d="M34.70,387.82H36.10M34.70,385.94H36.10M34.70,384.06H36.10M34.70,382.18H36.10M33.20,380.30H36.10M34.70,378.42H36.10M34.70,376.54H36.10M34.70,374.66H36.10M34.70,372.78H36.10M34.70,369.02H36.10M34.70,367.14H36.10M34.70,365.26H36.10M34.70,363.38H36.10M33.20,361.50H36.10M34.70,359.62H36.10M34.70,357.74H36.10M34.70,355.86H36.10M34.70,353.98H36.10M34.70,350.22H36.10M34.70,348.34H36.10M34.70,346.46H36.10M34.70,344.58H36.10M33.20,342.70H36.10M34.70,340.82H36.10M34.70,338.94H36.10M34.70,337.06H36.10M34.70,335.18H36.10M34.70,331.42H36.10M34.70,329.54H36.10M34.70,327.66H36.10M34.70,325.78H36.10M33.20,323.90H36.10M34.70,322.02H36.10M34.70,320.14H36.10M34.70,318.26H36.10M34.70,316.38H36.10M34.70,312.62H36.10M34.70,310.74H36.10M34.70,308.86H36.10M34.70,306.98H36.10M33.20,305.10H36.10M34.70,303.22H36.10M34.70,301.34H36.10M34.70,299.46H36.10" stroke="#5a5a5a" stroke-width="0.75" fill="none"/>
<text transform="translate(35.90,401.90) scale(0.87,1)" text-anchor="middle" class="t">0</text>
<text transform="translate(94.60,401.90) scale(0.87,1)" text-anchor="middle" class="t">10</text>
<text transform="translate(153.30,401.90) scale(0.87,1)" text-anchor="middle" class="t">20</text>
<text transform="translate(212.00,401.90) scale(0.87,1)" text-anchor="middle" class="t">30</text>
<text transform="translate(270.70,401.90) scale(0.87,1)" text-anchor="middle" class="t">40</text>
<text transform="translate(329.40,401.90) scale(0.87,1)" text-anchor="middle" class="t">50</text>
<path d="M35.60,390.30V395.30M94.30,390.30V395.30M153.00,390.30V395.30M211.70,390.30V395.30M270.40,390.30V395.30M329.10,390.30V395.30" stroke="#555" stroke-width="0.9" fill="none"/>
<path d="M64.95,390.50V393.10M123.65,390.50V393.10M182.35,390.50V393.10M241.05,390.50V393.10M299.75,390.50V393.10M358.45,390.50V393.10" stroke="#666" stroke-width="0.85" fill="none"/>
<path d="M41.47,390.40V391.70M47.34,390.40V391.70M53.21,390.40V391.70M59.08,390.40V391.70M70.82,390.40V391.70M76.69,390.40V391.70M82.56,390.40V391.70M88.43,390.40V391.70M100.17,390.40V391.70M106.04,390.40V391.70M111.91,390.40V391.70M117.78,390.40V391.70M129.52,390.40V391.70M135.39,390.40V391.70M141.26,390.40V391.70M147.13,390.40V391.70M158.87,390.40V391.70M164.74,390.40V391.70M170.61,390.40V391.70M176.48,390.40V391.70M188.22,390.40V391.70M194.09,390.40V391.70M199.96,390.40V391.70M205.83,390.40V391.70M217.57,390.40V391.70M223.44,390.40V391.70M229.31,390.40V391.70M235.18,390.40V391.70M246.92,390.40V391.70M252.79,390.40V391.70M258.66,390.40V391.70M264.53,390.40V391.70M276.27,390.40V391.70M282.14,390.40V391.70M288.01,390.40V391.70M293.88,390.40V391.70M305.62,390.40V391.70M311.49,390.40V391.70M317.36,390.40V391.70M323.23,390.40V391.70M334.97,390.40V391.70M340.84,390.40V391.70M346.71,390.40V391.70M352.58,390.40V391.70M364.32,390.40V391.70M370.19,390.40V391.70" stroke="#6a6a6a" stroke-width="0.9" fill="none"/>
<text transform="translate(190,296.1) scale(0.8,1)" text-anchor="middle" class="t">Zn L&#945;1,2</text>
<text transform="translate(369,408.2) scale(0.78,1)" class="t">&#181;m</text>
<text transform="translate(112.0,354.6) scale(0.91,1)" class="big">Zn</text>
<path d="M36.0,389.0L36.7,389.0L37.7,389.2L38.5,389.2L39.5,389.3L40.3,386.1L41.1,389.2L42.2,389.0L43.1,389.2L44.1,389.1L45.0,386.4L46.0,387.2L46.7,384.5L47.4,389.3L48.4,386.9L49.4,386.7L50.3,386.6L51.2,386.6L52.0,386.8L52.9,385.9L53.8,386.9L54.5,389.1L55.6,388.8L56.4,383.4L57.1,389.1L58.0,389.1L58.8,387.7L59.5,384.0L60.6,389.1L61.6,384.8L62.6,385.8L63.3,388.9L64.4,387.2L65.2,389.1L66.3,386.0L67.4,384.2L68.1,385.6L69.3,389.0L70.3,387.6L71.3,387.2L72.1,388.9L73.2,387.2L74.2,389.2L75.3,383.0L76.0,389.3L77.0,384.2L78.0,387.6L79.0,385.8L80.0,383.7L80.7,388.8L81.6,381.0L82.6,380.6L83.5,386.8L84.2,389.0L85.0,388.4L85.8,389.1L86.5,386.3L87.3,381.3L88.0,384.0L88.9,388.9L89.6,389.1L90.4,384.9L91.2,386.3L92.0,386.8L92.7,385.2L93.6,385.6L94.7,389.3L95.7,389.1L96.6,383.8L97.4,385.3L98.6,384.8L99.4,383.8L100.1,387.6L101.0,385.7L101.7,389.2L102.7,383.2L103.6,384.3L104.6,387.6L105.5,389.0L106.6,383.6L107.4,385.4L108.1,386.1L108.9,385.2L109.8,385.9L110.6,389.2L111.5,389.1L112.5,387.4L113.4,389.3L114.2,389.1L115.0,389.0L115.9,389.2L116.9,388.9L117.6,381.5L118.4,389.2L119.1,389.2L120.2,383.1L121.2,385.3L122.2,386.4L122.9,381.9L123.6,389.2L124.6,387.1L125.7,389.2L126.8,386.6L127.5,389.3L128.3,389.3L129.2,387.5L130.2,386.2L131.3,385.5L132.4,387.0L133.2,389.1L134.3,388.8L135.3,388.9L135.9,385.8L136.8,385.7L137.6,386.6L138.5,384.1L139.2,388.8L140.1,383.0L141.2,384.5L142.1,387.0L142.8,383.8L143.6,386.0L144.6,381.1L145.6,385.4L146.6,387.0L147.3,388.6L148.3,389.1L149.3,386.8L150.1,386.9L150.8,387.3L151.7,389.3L152.8,387.3L153.6,388.9L154.5,384.4L155.5,389.1L156.5,387.1L157.4,389.0L158.4,389.1L159.1,389.1L160.1,387.2L161.2,383.0L162.0,389.2L162.8,386.9L163.6,385.4L164.6,383.1L165.5,385.4L166.4,389.1L167.4,387.7L168.5,389.3L169.3,386.6L170.2,384.0L171.1,382.6L172.0,389.2L173.0,388.7L173.8,383.5L174.9,382.5L175.7,389.1L176.7,388.9L177.6,388.9L178.6,389.1L179.4,383.9L180.4,383.7L181.2,389.0L182.2,389.3L183.0,389.3L183.9,384.3L184.6,389.1L185.7,389.2L186.8,387.0L187.9,386.1L188.8,388.7L189.8,386.5L190.5,389.3L191.4,382.6L192.5,389.2L193.5,389.2L194.6,389.1L195.7,384.0L196.7,389.1L197.6,389.3L198.5,389.0L199.5,389.2L200.2,388.9L200.9,383.1L201.6,387.3L202.7,385.7L203.8,388.9L204.0,384.0L205.0,378.7L205.8,377.6L206.5,371.0L207.2,374.8L208.0,376.0L209.0,373.6L210.0,369.0L211.0,382.0L212.0,361.0L212.8,368.3L213.5,377.0L214.2,363.4L215.0,345.0L216.0,342.4L216.8,341.2L217.5,350.0L218.2,336.3L219.0,321.4L220.0,340.0L221.0,332.5L222.0,316.0L223.0,299.4L224.0,337.0L225.0,314.8L226.0,341.0L227.0,333.5L228.0,361.0L229.0,363.0L229.8,359.7L230.5,350.0L231.2,335.5L232.0,323.6L233.0,334.6L233.8,334.7L234.5,349.0L235.2,366.8L236.0,371.0L237.0,375.0L237.8,374.1L238.5,383.0L239.2,375.9L240.0,378.0L241.0,387.5L241.5,386.1L242.3,384.1L243.2,388.8L244.0,388.9L244.9,388.9L245.9,389.1L246.6,389.3L247.5,389.1L248.2,388.7L248.9,389.0L249.9,389.3L250.9,386.0L251.6,385.3L252.6,383.3L253.6,386.4L254.5,389.3L255.3,389.1L256.3,386.8L256.5,382.0L257.2,372.0L258.0,364.4L258.8,367.5L259.5,372.0L260.2,376.2L261.0,378.0L262.0,382.4L263.0,383.0L263.5,384.6L264.6,388.3L265.4,389.2L266.4,389.2L267.2,389.1L268.1,389.0L269.1,389.1L270.1,389.3L270.9,387.2L271.8,389.2L272.6,384.3L273.6,384.5L274.6,387.1L275.7,386.0L276.6,387.0L277.6,389.2L278.6,389.2L279.4,389.0L280.1,388.9L280.8,386.0L281.6,385.2L282.4,389.2L283.4,387.1L284.2,386.1L285.2,389.2L286.0,386.9L287.1,384.1L288.2,383.1L289.2,389.1L290.1,388.8L290.9,385.8L291.8,389.1L292.6,389.2L293.6,383.1L294.3,388.9L294.9,389.2L295.7,383.0L296.5,381.0L296.6,383.7L297.5,386.6L297.5,374.4L298.5,382.0L298.6,383.8L299.3,383.5L300.2,385.2L301.2,384.5L302.2,387.2L303.2,383.2L304.3,386.6L305.0,389.3L305.7,387.3L306.5,389.2L307.4,387.0L308.5,381.2L309.4,383.7L310.2,389.3L310.9,389.1L311.9,386.7L312.8,388.9L313.5,389.0L314.3,389.1L315.3,389.1L316.2,386.5L317.1,389.0L317.8,388.7L318.7,386.7L319.7,388.9L320.6,389.2L321.4,389.0L322.4,384.2L323.3,389.0L324.3,389.2L325.1,389.0L326.2,389.2L327.0,385.8L328.0,386.8L328.8,383.4L329.5,384.6L330.4,385.9L331.2,389.1L332.1,382.2L333.0,389.3L334.1,386.4L334.8,389.2L335.6,389.2L336.5,384.2L337.5,386.4L338.2,387.1L339.1,389.2L340.1,387.1L340.8,386.5L341.9,385.9L342.7,386.1L343.6,386.2L344.3,389.2L345.3,386.2L346.4,384.9L347.3,381.9L348.1,387.6L349.1,386.2L350.1,389.2L351.1,385.1L352.0,389.0L352.9,381.8L353.8,386.9L354.8,389.3L355.9,387.5L356.9,389.2L357.7,385.2L358.4,384.4L359.2,389.1L360.2,389.3L361.1,389.3L362.0,389.1L362.8,385.9L363.9,387.0L364.9,384.1L365.7,386.8L366.5,387.3L367.4,387.4L368.5,389.3L369.6,383.5L370.7,388.7L371.5,389.2L372.4,389.3L373.3,389.1L374.1,389.2L375.0,383.6L375.7,389.1" fill="none" stroke="#147cff" stroke-width="1.3" stroke-linejoin="round"/>
<line x1="394" y1="289.5" x2="778.5" y2="289.5" stroke="#7c7c7c" stroke-width="1.2"/>
<line x1="394" y1="410.6" x2="778.5" y2="410.6" stroke="#777777" stroke-width="1.2"/>
<line x1="394" y1="288.9" x2="394" y2="411.20000000000005" stroke="#ababab" stroke-width="1.6"/>
<line x1="778.5" y1="288.9" x2="778.5" y2="411.20000000000005" stroke="#5c5c5c" stroke-width="1.2"/>
<text transform="translate(421.90,391.70) scale(0.87,1)" text-anchor="end" class="t">0</text>
<text transform="translate(421.90,374.65) scale(0.87,1)" text-anchor="end" class="t">40</text>
<text transform="translate(421.90,357.60) scale(0.87,1)" text-anchor="end" class="t">80</text>
<text transform="translate(421.90,340.55) scale(0.87,1)" text-anchor="end" class="t">120</text>
<text transform="translate(421.90,323.50) scale(0.87,1)" text-anchor="end" class="t">160</text>
<text transform="translate(421.90,306.45) scale(0.87,1)" text-anchor="end" class="t">200</text>
<path d="M422.10,372.35H426.70M422.10,355.30H426.70M422.10,338.25H426.70M422.10,321.20H426.70M422.10,304.15H426.70" stroke="#444" stroke-width="0.9" fill="none"/>
<path d="M425.40,387.69H426.80M425.40,385.99H426.80M425.40,384.28H426.80M425.40,382.58H426.80M423.90,380.88H426.80M425.40,379.17H426.80M425.40,377.46H426.80M425.40,375.76H426.80M425.40,374.05H426.80M425.40,370.64H426.80M425.40,368.94H426.80M425.40,367.23H426.80M425.40,365.53H426.80M423.90,363.82H426.80M425.40,362.12H426.80M425.40,360.41H426.80M425.40,358.71H426.80M425.40,357.00H426.80M425.40,353.59H426.80M425.40,351.89H426.80M425.40,350.18H426.80M425.40,348.48H426.80M423.90,346.77H426.80M425.40,345.07H426.80M425.40,343.36H426.80M425.40,341.66H426.80M425.40,339.95H426.80M425.40,336.54H426.80M425.40,334.84H426.80M425.40,333.13H426.80M425.40,331.43H426.80M423.90,329.72H426.80M425.40,328.02H426.80M425.40,326.31H426.80M425.40,324.61H426.80M425.40,322.90H426.80M425.40,319.50H426.80M425.40,317.79H426.80M425.40,316.08H426.80M425.40,314.38H426.80M423.90,312.67H426.80M425.40,310.97H426.80M425.40,309.26H426.80M425.40,307.56H426.80M425.40,305.85H426.80M425.40,302.44H426.80M425.40,300.74H426.80" stroke="#5a5a5a" stroke-width="0.75" fill="none"/>
<text transform="translate(426.60,401.60) scale(0.87,1)" text-anchor="middle" class="t">0</text>
<text transform="translate(477.62,401.60) scale(0.87,1)" text-anchor="middle" class="t">10</text>
<text transform="translate(528.64,401.60) scale(0.87,1)" text-anchor="middle" class="t">20</text>
<text transform="translate(579.66,401.60) scale(0.87,1)" text-anchor="middle" class="t">30</text>
<text transform="translate(630.68,401.60) scale(0.87,1)" text-anchor="middle" class="t">40</text>
<text transform="translate(681.70,401.60) scale(0.87,1)" text-anchor="middle" class="t">50</text>
<text transform="translate(732.72,401.60) scale(0.87,1)" text-anchor="middle" class="t">60</text>
<path d="M426.30,390.00V395.00M477.32,390.00V395.00M528.34,390.00V395.00M579.36,390.00V395.00M630.38,390.00V395.00M681.40,390.00V395.00M732.42,390.00V395.00" stroke="#555" stroke-width="0.9" fill="none"/>
<path d="M451.81,390.20V392.80M502.83,390.20V392.80M553.85,390.20V392.80M604.87,390.20V392.80M655.89,390.20V392.80M706.91,390.20V392.80M757.93,390.20V392.80" stroke="#666" stroke-width="0.85" fill="none"/>
<path d="M431.40,390.10V391.40M436.50,390.10V391.40M441.61,390.10V391.40M446.71,390.10V391.40M456.91,390.10V391.40M462.01,390.10V391.40M467.12,390.10V391.40M472.22,390.10V391.40M482.42,390.10V391.40M487.52,390.10V391.40M492.63,390.10V391.40M497.73,390.10V391.40M507.93,390.10V391.40M513.03,390.10V391.40M518.14,390.10V391.40M523.24,390.10V391.40M533.44,390.10V391.40M538.54,390.10V391.40M543.65,390.10V391.40M548.75,390.10V391.40M558.95,390.10V391.40M564.05,390.10V391.40M569.16,390.10V391.40M574.26,390.10V391.40M584.46,390.10V391.40M589.56,390.10V391.40M594.67,390.10V391.40M599.77,390.10V391.40M609.97,390.10V391.40M615.07,390.10V391.40M620.18,390.10V391.40M625.28,390.10V391.40M635.48,390.10V391.40M640.58,390.10V391.40M645.69,390.10V391.40M650.79,390.10V391.40M660.99,390.10V391.40M666.09,390.10V391.40M671.20,390.10V391.40M676.30,390.10V391.40M686.50,390.10V391.40M691.60,390.10V391.40M696.71,390.10V391.40M701.81,390.10V391.40M712.01,390.10V391.40M717.11,390.10V391.40M722.22,390.10V391.40M727.32,390.10V391.40M737.52,390.10V391.40M742.62,390.10V391.40M747.73,390.10V391.40M752.83,390.10V391.40M763.03,390.10V391.40" stroke="#6a6a6a" stroke-width="0.9" fill="none"/>
<text transform="translate(580.5,296.1) scale(0.8,1)" text-anchor="middle" class="t">Zn L&#945;1,2</text>
<text transform="translate(759,408.4) scale(0.78,1)" class="t">&#181;m</text>
<text transform="translate(483.6,354.6) scale(0.91,1)" class="big">Zn</text>
<path d="M426.6,389.1L427.5,388.8L428.6,381.0L429.7,388.7L430.5,389.0L431.3,376.4L432.3,389.0L433.0,388.8L433.9,388.9L434.6,382.5L435.4,388.4L436.2,381.0L437.0,382.5L437.7,389.0L438.8,389.0L439.5,388.8L440.3,388.9L441.0,384.0L441.8,381.2L442.8,389.0L443.8,388.8L444.6,389.0L445.4,384.5L446.1,388.9L446.8,389.1L447.6,389.1L448.7,383.9L449.6,389.0L450.4,389.0L451.3,384.6L452.0,383.0L452.7,388.7L453.8,388.8L454.9,383.0L455.9,388.9L456.7,382.3L457.8,388.7L458.8,388.8L459.6,381.0L460.5,381.2L461.6,381.3L462.6,382.2L463.7,389.1L464.8,389.0L465.7,388.9L466.5,388.7L467.4,383.2L468.5,389.1L469.2,382.0L470.3,389.1L471.1,388.9L471.9,388.9L473.0,388.9L474.0,380.1L474.8,377.5L475.8,389.1L476.9,376.7L477.7,379.4L478.6,389.0L479.5,384.2L480.3,388.9L481.3,388.8L482.1,381.3L482.8,383.8L483.5,389.0L484.3,389.0L485.1,384.7L486.1,388.3L486.9,383.5L488.0,388.8L488.7,381.4L489.6,388.6L490.5,376.2L491.5,381.5L492.4,383.0L493.2,388.9L494.2,389.1L495.1,388.8L495.8,384.6L496.8,382.7L497.6,388.6L498.5,388.8L499.5,383.8L500.5,384.6L501.5,388.9L502.3,388.9L503.1,381.2L503.9,388.8L504.7,389.0L505.8,383.2L506.9,382.4L508.0,389.1L508.7,381.6L509.8,389.0L510.5,389.0L511.3,383.0L512.0,384.8L513.0,382.3L514.0,388.8L515.1,388.9L516.0,382.4L516.9,381.1L517.6,384.5L518.5,388.8L519.5,381.0L520.3,389.0L521.3,383.7L522.4,385.8L523.3,389.0L524.1,381.8L524.8,381.2L525.5,380.3L526.6,388.7L527.5,381.5L528.6,383.2L529.3,381.6L530.1,389.1L531.2,389.0L532.1,384.0L532.9,388.8L533.8,388.6L534.5,381.5L535.5,381.5L536.3,383.9L537.2,388.4L538.1,388.6L539.1,384.4L540.2,380.5L541.0,385.7L541.9,388.6L542.7,388.8L543.5,388.9L544.6,389.1L545.6,381.0L546.4,376.9L547.1,380.6L548.0,389.0L548.8,380.5L549.9,382.0L550.6,381.2L551.5,386.0L552.4,388.4L553.4,389.0L554.2,382.3L555.0,389.0L555.8,388.5L556.7,389.0L557.4,388.8L558.3,388.9L559.3,385.4L560.1,388.7L561.0,377.8L562.1,389.0L562.8,382.4L563.5,384.0L564.5,388.7L565.5,388.8L566.5,388.6L567.3,385.2L568.1,389.0L568.9,388.5L569.8,382.1L570.8,388.8L571.6,382.7L572.6,388.7L573.6,382.8L574.3,388.6L575.1,382.1L576.1,388.6L576.9,388.9L577.9,388.7L579.0,388.8L579.9,388.6L581.0,388.6L581.7,388.8L582.7,388.9L583.4,389.0L584.3,383.7L585.0,385.7L586.0,389.0L586.7,388.6L587.8,388.9L588.0,384.0L588.5,376.5L589.5,385.0L590.5,344.5L591.5,361.0L592.2,363.2L593.0,354.5L594.0,361.0L594.8,352.2L595.5,347.8L596.5,361.0L597.2,359.2L598.0,356.7L599.0,368.0L600.0,378.7L601.0,361.0L602.0,345.0L602.8,342.0L603.5,344.6L604.2,344.3L605.0,339.0L606.0,342.4L607.0,323.6L607.8,319.1L608.5,317.0L609.5,307.0L610.5,299.4L611.5,315.0L612.5,323.6L613.2,323.1L614.0,327.0L615.0,340.0L616.0,330.0L617.0,356.0L618.0,361.0L619.0,374.0L620.0,378.0L621.0,384.0L622.0,388.0L623.0,383.9L624.0,382.0L624.5,389.0L625.2,381.7L626.0,389.0L627.0,388.9L628.0,388.4L628.9,379.5L630.0,389.0L631.1,382.3L631.8,383.0L632.6,388.8L633.4,389.1L634.3,378.6L635.3,388.7L636.1,381.3L636.9,383.5L637.6,389.0L638.5,388.7L639.2,382.0L640.2,378.0L640.9,388.7L641.8,383.7L642.8,388.9L643.6,388.8L644.5,377.5L645.4,388.9L646.4,386.1L647.2,389.0L648.1,388.7L649.1,388.7L650.0,381.1L650.8,384.1L651.7,389.0L652.6,378.4L653.7,389.0L654.7,388.8L655.6,377.0L656.4,389.1L657.1,381.2L658.2,384.5L658.8,371.0L659.1,382.5L659.9,384.5L660.8,385.6L661.7,388.7L662.4,385.3L663.5,388.7L664.5,388.8L665.3,389.0L666.1,388.6L666.9,380.8L667.7,389.1L668.5,388.5L669.2,388.8L670.1,382.1L671.3,379.5L672.4,389.0L673.4,381.9L674.4,381.9L675.1,384.1L676.0,389.0L676.9,388.8L677.7,388.9L678.6,389.0L679.4,388.9L680.4,389.1L681.2,381.5L682.1,389.0L683.2,389.0L684.2,389.0L684.9,380.8L686.0,388.7L687.1,382.3L687.9,381.5L688.9,386.3L689.9,388.9L690.8,389.1L691.5,388.8L692.3,388.9L693.3,382.7L694.3,388.9L695.2,388.3L695.9,388.6L696.9,389.1L698.0,383.0L699.0,388.7L699.9,383.3L701.1,389.0L702.1,388.9L703.1,382.1L703.9,381.0L704.8,389.1L705.7,381.1L706.8,382.5L707.7,389.1L708.5,389.0L709.6,388.8L710.7,388.9L711.8,380.9L712.7,389.1L713.8,388.9L714.8,388.7L715.9,383.4L716.9,380.9L717.6,381.0L718.0,375.0L718.5,358.7L718.6,389.1L719.2,378.0L719.6,389.1L720.4,388.8L721.4,384.7L722.5,380.7L723.5,388.9L724.5,381.4L725.7,388.9L726.5,383.4L727.3,371.0L727.4,376.5L728.1,382.3L729.1,385.7L730.2,388.6L731.1,382.5L732.1,383.9L732.9,389.0L733.8,383.5L734.8,384.2L736.0,381.9L736.9,382.3L737.9,383.1L738.6,389.0L739.4,380.6L740.5,388.8L741.3,382.7L742.1,385.0L743.1,389.0L743.8,382.6L744.7,381.4L745.6,388.9L746.6,389.0L747.5,388.9L748.4,382.1L749.5,383.7L750.5,376.1L751.3,388.7L752.3,389.0L753.2,381.0L753.9,386.3L754.8,380.9L755.6,380.3L756.3,389.0L757.4,382.5L758.2,389.0L759.1,388.6L760.0,382.5L760.0,372.0L761.0,383.7L762.0,386.0L762.7,380.8L763.4,388.8L764.4,388.8L765.2,382.1L766.1,381.8" fill="none" stroke="#147cff" stroke-width="1.3" stroke-linejoin="round"/>
<text x="177.2" y="442" class="cap" style="font-size:24px">(</text>
<text transform="translate(184.2,442) scale(0.87,1)" class="cap" style="font-weight:bold">a</text>
<text x="194.6" y="442" class="cap" style="font-size:24px">)</text>
<text x="567.1" y="442" class="cap" style="font-size:24px">(</text>
<text x="574.2" y="442" class="cap" style="font-weight:bold">b</text>
<text x="586.3" y="442" class="cap" style="font-size:24px">)</text>
</svg>
</body></html>
